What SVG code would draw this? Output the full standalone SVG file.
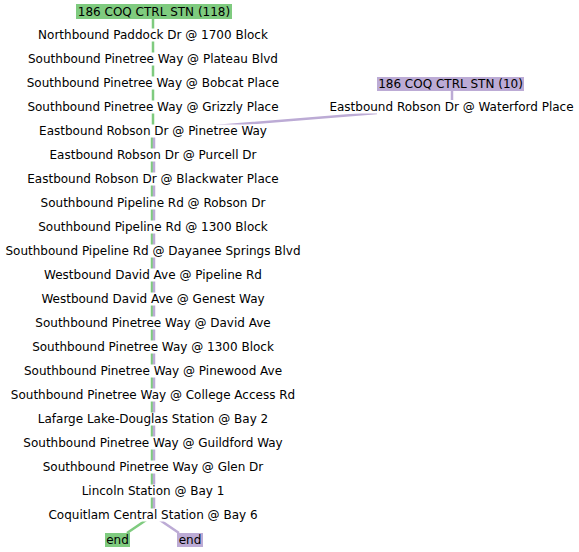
<svg xmlns="http://www.w3.org/2000/svg" width="579" height="552" viewBox="0 0 579 552">
<style>
text{font-family:"DejaVu Sans",sans-serif;font-size:12px;fill:#000;text-anchor:middle}
.bg{fill:#fff}
.g{stroke:#7fcb7f;stroke-width:2.5;fill:none}
.p{stroke:#bcabd5;stroke-width:2.5;fill:none}
.gf{fill:#7fcb7f}
.pf{fill:#bcabd5}
</style>
<rect width="579" height="552" fill="#fff"/>
<g id="connectors">
<path class="g" d="M153,19 V131"/>
<path class="g" d="M152,131 V516 L127,533"/>
<path class="p" d="M452,91 V100"/>
<path class="p" d="M377,113 L154,131 V516 L179,533"/>
</g>
<g id="title118"><rect class="gf" x="76" y="4" width="156" height="15"/><text x="154" y="16">186 COQ CTRL STN (118)</text></g>
<g id="title10"><rect class="pf" x="377" y="77" width="147" height="14"/><text x="450.5" y="88">186 COQ CTRL STN (10)</text></g>
<g id="n-waterford"><rect class="bg" x="329" y="100.5" width="246" height="13"/><text x="451.5" y="111">Eastbound Robson Dr @ Waterford Place</text></g>
<g id="n1"><rect class="bg" x="37" y="28.5" width="234" height="13"/><text x="153" y="39">Northbound Paddock Dr @ 1700 Block</text></g>
<g id="n2"><rect class="bg" x="28" y="52.5" width="250" height="13"/><text x="153" y="63">Southbound Pinetree Way @ Plateau Blvd</text></g>
<g id="n3"><rect class="bg" x="27" y="76.5" width="252" height="13"/><text x="153" y="87">Southbound Pinetree Way @ Bobcat Place</text></g>
<g id="n4"><rect class="bg" x="28" y="100.5" width="250" height="13"/><text x="153" y="111">Southbound Pinetree Way @ Grizzly Place</text></g>
<g id="n5"><rect class="bg" x="39" y="124.5" width="229" height="13"/><text x="153" y="135">Eastbound Robson Dr @ Pinetree Way</text></g>
<g id="n6"><rect class="bg" x="49" y="148.5" width="209" height="13"/><text x="153" y="159">Eastbound Robson Dr @ Purcell Dr</text></g>
<g id="n7"><rect class="bg" x="27" y="172.5" width="252" height="13"/><text x="153" y="183">Eastbound Robson Dr @ Blackwater Place</text></g>
<g id="n8"><rect class="bg" x="40" y="196.5" width="226" height="13"/><text x="153" y="207">Southbound Pipeline Rd @ Robson Dr</text></g>
<g id="n9"><rect class="bg" x="37" y="220.5" width="232" height="13"/><text x="153" y="231">Southbound Pipeline Rd @ 1300 Block</text></g>
<g id="n10"><rect class="bg" x="5" y="244.5" width="296" height="13"/><text x="153" y="255">Southbound Pipeline Rd @ Dayanee Springs Blvd</text></g>
<g id="n11"><rect class="bg" x="45" y="268.5" width="216" height="13"/><text x="153" y="279">Westbound David Ave @ Pipeline Rd</text></g>
<g id="n12"><rect class="bg" x="42" y="292.5" width="222" height="13"/><text x="153" y="303">Westbound David Ave @ Genest Way</text></g>
<g id="n13"><rect class="bg" x="35" y="316.5" width="236" height="13"/><text x="153" y="327">Southbound Pinetree Way @ David Ave</text></g>
<g id="n14"><rect class="bg" x="31" y="340.5" width="244" height="13"/><text x="153" y="351">Southbound Pinetree Way @ 1300 Block</text></g>
<g id="n15"><rect class="bg" x="23" y="364.5" width="260" height="13"/><text x="153" y="375">Southbound Pinetree Way @ Pinewood Ave</text></g>
<g id="n16"><rect class="bg" x="11" y="388.5" width="284" height="13"/><text x="153" y="399">Southbound Pinetree Way @ College Access Rd</text></g>
<g id="n17"><rect class="bg" x="39" y="412.5" width="228" height="13"/><text x="153" y="423">Lafarge Lake-Douglas Station @ Bay 2</text></g>
<g id="n18"><rect class="bg" x="23" y="436.5" width="260" height="13"/><text x="153" y="447">Southbound Pinetree Way @ Guildford Way</text></g>
<g id="n19"><rect class="bg" x="43" y="460.5" width="220" height="13"/><text x="153" y="471">Southbound Pinetree Way @ Glen Dr</text></g>
<g id="n20"><rect class="bg" x="81" y="484.5" width="144" height="13"/><text x="153" y="495">Lincoln Station @ Bay 1</text></g>
<g id="n21"><rect class="bg" x="49" y="508.5" width="208" height="13"/><text x="153" y="519">Coquitlam Central Station @ Bay 6</text></g>
<g id="end-green"><rect class="gf" x="105" y="533" width="25" height="14"/><text x="117.5" y="544">end</text></g>
<g id="end-purple"><rect class="pf" x="177" y="533" width="26" height="14"/><text x="190" y="544">end</text></g>
</svg>
